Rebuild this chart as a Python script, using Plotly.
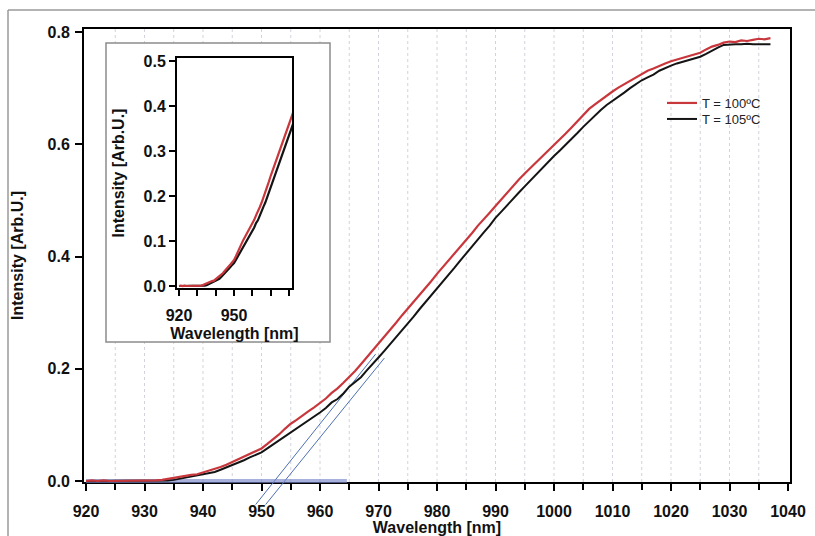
import plotly.graph_objects as go

# ---------------- data ----------------
wavelength = list(range(920, 1038))  # nm

intensity_100 = [
    0.000, 0.001, 0.000, 0.001, 0.000, 0.000, 0.001, 0.000, 0.000, 0.001,   # 920-929
    0.000, 0.000, 0.001, 0.002, 0.004, 0.006, 0.007, 0.009, 0.011, 0.012,   # 930-939
    0.015, 0.018, 0.021, 0.025, 0.029, 0.034, 0.038, 0.043, 0.048, 0.053,   # 940-949
    0.058, 0.066, 0.074, 0.083, 0.093, 0.102, 0.109, 0.117, 0.124, 0.131,   # 950-959
    0.139, 0.147, 0.157, 0.165, 0.175, 0.185, 0.196, 0.208, 0.220, 0.232,   # 960-969
    0.245, 0.257, 0.270, 0.282, 0.295, 0.307, 0.319, 0.332, 0.344, 0.356,   # 970-979
    0.369, 0.381, 0.393, 0.405, 0.418, 0.430, 0.442, 0.455, 0.466, 0.478,   # 980-989
    0.490, 0.502, 0.514, 0.526, 0.537, 0.548, 0.558, 0.568, 0.578, 0.588,   # 990-999
    0.598, 0.608, 0.619, 0.630, 0.641, 0.652, 0.663, 0.671, 0.679, 0.686,   # 1000-1009
    0.694, 0.701, 0.707, 0.714, 0.720, 0.726, 0.731, 0.735, 0.740, 0.744,   # 1010-1019
    0.748, 0.751, 0.754, 0.757, 0.760, 0.763, 0.769, 0.774, 0.777, 0.781,   # 1020-1029
    0.783, 0.782, 0.785, 0.784, 0.786, 0.788, 0.787, 0.789,                 # 1030-1037
]

intensity_105 = [
    0.000, 0.000, 0.001, 0.000, 0.000, 0.001, 0.000, 0.000, 0.000, 0.001,   # 920-929
    0.000, 0.000, 0.000, 0.001, 0.001, 0.002, 0.004, 0.006, 0.007, 0.009,   # 930-939
    0.011, 0.013, 0.016, 0.020, 0.024, 0.028, 0.033, 0.037, 0.042, 0.047,   # 940-949
    0.051, 0.058, 0.065, 0.072, 0.080, 0.087, 0.094, 0.101, 0.108, 0.115,   # 950-959
    0.122, 0.130, 0.140, 0.146, 0.156, 0.168, 0.176, 0.185, 0.197, 0.208,   # 960-969
    0.220, 0.232, 0.244, 0.256, 0.268, 0.281, 0.293, 0.306, 0.318, 0.331,   # 970-979
    0.343, 0.355, 0.368, 0.380, 0.393, 0.405, 0.418, 0.430, 0.443, 0.455,   # 980-989
    0.469, 0.480, 0.492, 0.503, 0.514, 0.525, 0.536, 0.547, 0.558, 0.569,   # 990-999
    0.579, 0.589, 0.599, 0.610, 0.620, 0.631, 0.641, 0.652, 0.661, 0.670,   # 1000-1009
    0.677, 0.685, 0.692, 0.700, 0.707, 0.714, 0.719, 0.724, 0.731, 0.736,   # 1010-1019
    0.740, 0.744, 0.747, 0.750, 0.753, 0.756, 0.761, 0.767, 0.772, 0.777,   # 1020-1029
    0.778, 0.778, 0.778, 0.779, 0.778, 0.778, 0.779, 0.778,                 # 1030-1037
]

# linear-edge tangent lines (two end points each) and baseline fit
tangent_100_x = [949.0, 969.5]
tangent_100_y = [-0.042, 0.226]
tangent_105_x = [950.7, 971.0]
tangent_105_y = [-0.042, 0.219]
baseline_x = [920.0, 964.6]
baseline_y = [0.0, 0.0]

series_names = ["T = 100ºC", "T = 105ºC"]
inset_tickvals = [920, 930, 940, 950, 960, 970, 980]
inset_ticktext = ["920", "", "", "950", "", "", ""]
grid_positions = list(range(925, 1040, 5))

# ---------------- layout geometry ----------------
W, H = 815, 536
L, R, T, B = 84, 25, 29, 20
PW = W - L - R
PH = H - T - B


def px(xp):
    return (xp - L) / PW


def py(yp):
    return (H - B - yp) / PH


X_RANGE = [919.658, 1040.34]
Y_RANGE = [-0.00178, 0.80535]
Y_EXT_RANGE = [-0.06236, 0.80535]
main_bottom = py(482)

FONT = "Liberation Sans, Arial, Helvetica, sans-serif"
bold16 = dict(family=FONT, size=16, color="#111111", weight="bold")
RED = "#c8373c"
BLACK = "#141414"
BLUE = "#4d6fb3"

fig = go.Figure()

# main-panel traces (drawn on an extended overlay so tangent lines can pass below the axis)
fig.add_trace(go.Scatter(x=tangent_100_x, y=tangent_100_y, xaxis="x3", yaxis="y3", mode="lines",
                         line=dict(color=BLUE, width=1), showlegend=False, hoverinfo="skip"))
fig.add_trace(go.Scatter(x=tangent_105_x, y=tangent_105_y, xaxis="x3", yaxis="y3", mode="lines",
                         line=dict(color=BLUE, width=1), showlegend=False, hoverinfo="skip"))
fig.add_trace(go.Scatter(x=baseline_x, y=baseline_y, xaxis="x3", yaxis="y3", mode="lines",
                         line=dict(color="rgba(120,135,200,0.65)", width=4), showlegend=False,
                         hoverinfo="skip"))
fig.add_trace(go.Scatter(x=wavelength, y=intensity_105, xaxis="x3", yaxis="y3", mode="lines",
                         name=series_names[1], legend="legend2",
                         line=dict(color=BLACK, width=2)))
fig.add_trace(go.Scatter(x=wavelength, y=intensity_100, xaxis="x3", yaxis="y3", mode="lines",
                         name=series_names[0], legend="legend",
                         line=dict(color=RED, width=2.2)))

# inset traces
fig.add_trace(go.Scatter(x=wavelength, y=intensity_105, xaxis="x2", yaxis="y2", mode="lines",
                         line=dict(color=BLACK, width=2.2), showlegend=False))
fig.add_trace(go.Scatter(x=wavelength, y=intensity_100, xaxis="x2", yaxis="y2", mode="lines",
                         line=dict(color=RED, width=2.2), showlegend=False))

frame_style = dict(color="#9a9a9a", width=1.5)
shapes = [
    # outer figure frame (left and top edges; the rest lies outside the picture)
    dict(type="line", xref="paper", yref="paper", x0=px(8), x1=px(8), y0=py(600), y1=py(10),
         line=frame_style, layer="below"),
    dict(type="line", xref="paper", yref="paper", x0=px(8), x1=px(900), y0=py(10), y1=py(10),
         line=frame_style, layer="below"),
]
for g in grid_positions:
    shapes.append(dict(type="line", xref="x", yref="y domain", x0=g, x1=g, y0=0, y1=1,
                       line=dict(color="#d2d3dc", width=1, dash="dot"), layer="below"))
# inset box
shapes.append(dict(type="rect", xref="paper", yref="paper", x0=px(106), x1=px(330),
                   y0=py(342), y1=py(43), fillcolor="white",
                   line=dict(color="#8c8c8c", width=1.5), layer="below"))

axis_common = dict(showline=True, linecolor="black", linewidth=2, mirror=True,
                   ticks="outside", tickcolor="black", tickwidth=2, showgrid=False,
                   zeroline=False, tickfont=bold16)

legend_common = dict(xanchor="left", yanchor="top", bgcolor="rgba(0,0,0,0)",
                     font=dict(family=FONT, size=13, color="#222222"),
                     itemwidth=30, tracegroupgap=0)

fig.update_layout(
    width=W, height=H,
    margin=dict(l=L, r=R, t=T, b=B, autoexpand=False),
    paper_bgcolor="white",
    plot_bgcolor="rgba(0,0,0,0)",
    font=dict(family=FONT, color="#111111"),
    shapes=shapes,
    showlegend=True,
    legend=dict(legend_common, x=px(662), y=py(88)),
    legend2=dict(legend_common, x=px(662), y=py(104)),
    xaxis=dict(axis_common, domain=[0, 1], range=X_RANGE, anchor="y",
               tick0=920, dtick=10, ticklen=7, ticklabelstandoff=7,
               minor=dict(ticks="outside", dtick=5, tick0=920, ticklen=6, tickwidth=2,
                          tickcolor="black", showgrid=False),
               title=dict(text="Wavelength [nm]", font=bold16, standoff=5)),
    yaxis=dict(axis_common, domain=[main_bottom, 1], range=Y_RANGE, anchor="x",
               tick0=0, dtick=0.2, tickformat=".1f", ticklen=7, ticklabelstandoff=2,
               title=dict(text="Intensity [Arb.U.]", font=bold16, standoff=20)),
    xaxis2=dict(axis_common, domain=[px(177), px(292)], range=[918.9, 981.6], anchor="y2",
                tickvals=inset_tickvals, ticktext=inset_ticktext, ticklen=6, tickwidth=1.5,
                ticklabelstandoff=6,
                title=dict(text="Wavelength [nm]", font=bold16, standoff=5)),
    yaxis2=dict(axis_common, domain=[py(288), py(58)], range=[-0.0044, 0.5067], anchor="x2",
                tick0=0, dtick=0.1, tickformat=".1f", ticklen=6, tickwidth=1.5,
                title=dict(text="Intensity [Arb.U.]", font=bold16, standoff=15)),
    xaxis3=dict(domain=[0, 1], range=X_RANGE, anchor="y3", visible=False, fixedrange=True),
    yaxis3=dict(domain=[0, 1], range=Y_EXT_RANGE, anchor="x3", visible=False, fixedrange=True),
)

fig.write_html("out.html")
